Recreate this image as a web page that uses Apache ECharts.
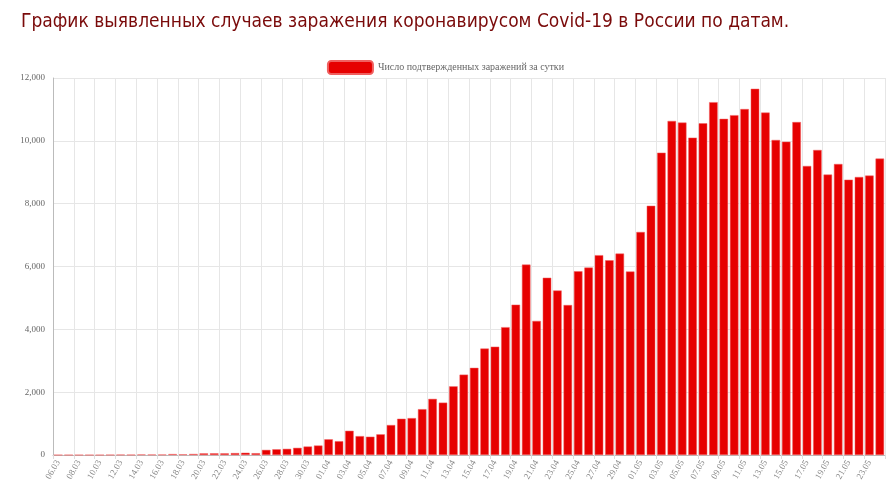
<!DOCTYPE html>
<html><head><meta charset="utf-8">
<script src="https://cdn.jsdelivr.net/npm/echarts@6/dist/echarts.min.js"></script>
<style>html,body{margin:0;padding:0;background:#fff}#c{width:891px;height:486px}</style>
</head><body><div id="c"></div>
<script>
const seriesName = 'Число подтвержденных заражений за сутки';
const titleText = 'График выявленных случаев заражения коронавирусом Covid-19 в России по датам.';
const categories = [];
(function(){
  for (let d = 6; d <= 31; d++) categories.push(String(d).padStart(2,'0') + '.03');
  for (let d = 1; d <= 30; d++) categories.push(String(d).padStart(2,'0') + '.04');
  for (let d = 1; d <= 24; d++) categories.push(String(d).padStart(2,'0') + '.05');
})();
const cases = [0,0,0,0,0,3,8,6,17,14,14,30,21,33,52,54,53,61,71,57,163,182,196,228,270,302,
  500,440,771,601,582,658,954,1154,1175,1459,1786,1667,2186,2558,2774,3388,3448,4070,4785,6060,
  4268,5642,5236,4774,5849,5966,6361,6198,6411,5841,7099,7933,9623,10633,10581,10102,10559,11231,
  10699,10817,11012,11656,10899,10028,9974,10598,9200,9709,8926,9263,8764,8849,8894,9434];
const yTicks = {min:0, max:12000, interval:2000};

const chart = echarts.init(document.getElementById('c'));
chart.setOption({
  animation:false,
  title:{text:titleText,left:16,top:8,textStyle:{color:'#7a0a0a',fontSize:19,fontWeight:'normal',fontFamily:'DejaVu Sans Condensed, DejaVu Sans'}},
  legend:{top:55,left:'center',itemWidth:45,itemHeight:13,itemGap:6,
    textStyle:{fontFamily:'Liberation Serif, serif',fontSize:10,color:'#666'},data:[seriesName]},
  grid:{left:53,right:6,top:78,bottom:31,containLabel:false},
  xAxis:{type:'category',data:categories,
    axisLine:{lineStyle:{color:'#bbb'}},axisTick:{show:true,interval:1,length:4,lineStyle:{color:'#ddd'}},
    axisLabel:{interval:1,rotate:60,fontSize:9,color:'#888',fontFamily:'Liberation Serif, serif',margin:6},
    splitLine:{show:true,interval:1,lineStyle:{color:'#e6e6e6'}}},
  yAxis:{type:'value',min:yTicks.min,max:yTicks.max,interval:yTicks.interval,
    axisLine:{show:true,lineStyle:{color:'#bbb'}},axisTick:{show:false},
    axisLabel:{fontSize:9,color:'#666',fontFamily:'Liberation Serif, serif'},
    splitLine:{lineStyle:{color:'#e6e6e6'}}},
  series:[{name:seriesName,type:'bar',data:cases,barCategoryGap:'18%',
    itemStyle:{color:'#e60000',borderColor:'#f06060',borderWidth:0.5}}]
});
</script></body></html>
